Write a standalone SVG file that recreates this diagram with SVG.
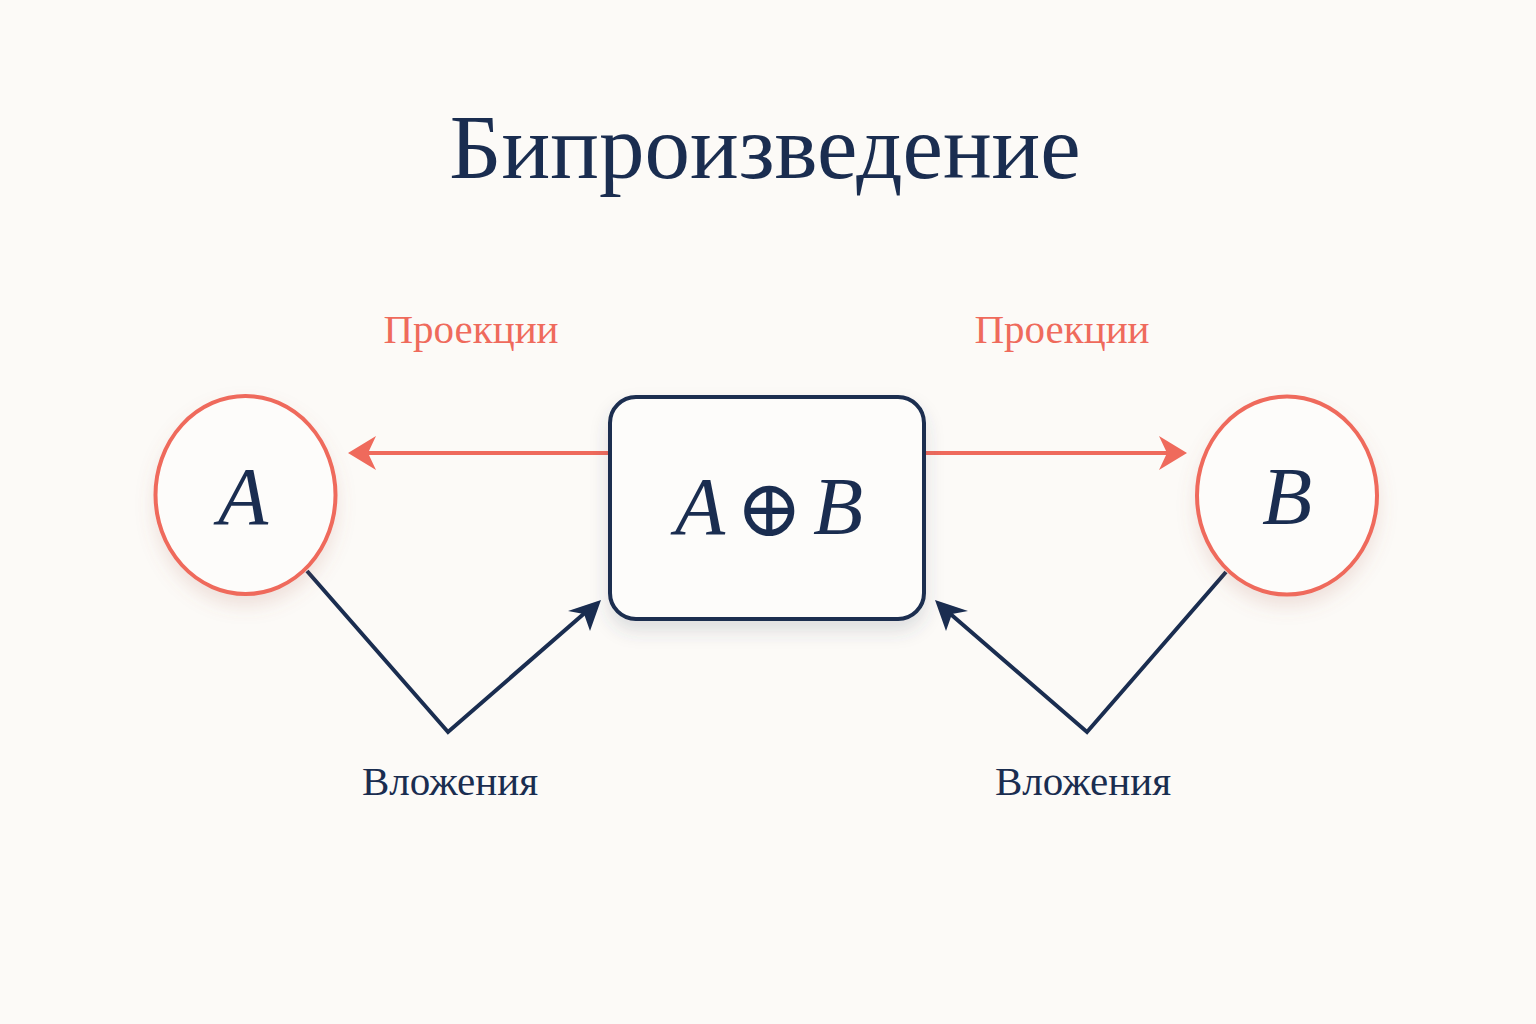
<svg xmlns="http://www.w3.org/2000/svg" width="1536" height="1024" viewBox="0 0 1536 1024">
<defs>
<style>
.title{font-family:"Liberation Serif","DejaVu Serif",serif;font-size:91px;fill:#1a2d50;text-anchor:middle}
.proj{font-family:"Liberation Serif","DejaVu Serif",serif;font-size:41px;fill:#ef6a5c;text-anchor:middle}
.emb{font-family:"Liberation Serif","DejaVu Serif",serif;font-size:41px;fill:#1a2d50;text-anchor:middle}
.math{font-family:"Liberation Serif","DejaVu Serif",serif;font-style:italic;font-size:82px;fill:#1a2d50;text-anchor:middle}
.op{font-family:"DejaVu Serif","Liberation Serif",serif;font-size:80px;fill:#1a2d50;text-anchor:middle}
.circ{fill:#fdfcfa;stroke:#ef6a5c;stroke-width:4}
.box{fill:#fdfcfa;stroke:#1a2d50;stroke-width:4}
.red{stroke:#ef6a5c;stroke-width:4;fill:none}
.navy{stroke:#1a2d50;stroke-width:4;fill:none;stroke-linejoin:miter}
</style>
<filter id="sh" x="-30%" y="-30%" width="160%" height="170%">
<feDropShadow dx="0" dy="10" stdDeviation="9" flood-color="#b07060" flood-opacity="0.18"/>
</filter>
<filter id="shb" x="-30%" y="-30%" width="160%" height="170%">
<feDropShadow dx="0" dy="10" stdDeviation="9" flood-color="#404860" flood-opacity="0.16"/>
</filter>
</defs>
<rect width="1536" height="1024" fill="#fcfaf7"/>
<text class="title" x="765" y="178">Бипроизведение</text>

<g id="connectors">
<line class="red" x1="609" y1="453" x2="362" y2="453"/>
<path d="M348,453 L376,436 L368,453 L376,470 Z" fill="#ef6a5c"/>
<line class="red" x1="925" y1="453" x2="1172" y2="453"/>
<path d="M1187,453 L1159,436 L1167,453 L1159,470 Z" fill="#ef6a5c"/>
<polyline class="navy" points="307,571 448,732 587,611"/>
<path d="M601,600 L568,611 L584,614 L590,631 Z" fill="#1a2d50"/>
<polyline class="navy" points="1226,572 1087,732 947,611"/>
<path d="M935,600 L968,611 L952,614 L946,631 Z" fill="#1a2d50"/>
<text class="proj" x="471" y="343">Проекции</text>
<text class="proj" x="1062" y="343">Проекции</text>
<text class="emb" x="450" y="795">Вложения</text>
<text class="emb" x="1083" y="795">Вложения</text>
</g>

<g id="node-A">
<ellipse class="circ" cx="245.5" cy="495" rx="90" ry="99" filter="url(#sh)"/>
<text class="math" x="243" y="524">A</text>
</g>
<g id="node-AB">
<rect class="box" x="610" y="397" width="314" height="222" rx="26" filter="url(#shb)"/>
<text class="math" x="700" y="534">A</text>
<text class="op" x="769" y="536">⊕</text>
<text class="math" x="838" y="534">B</text>
</g>
<g id="node-B">
<ellipse class="circ" cx="1287" cy="495.5" rx="90" ry="99" filter="url(#sh)"/>
<text class="math" x="1287" y="524">B</text>
</g>
</svg>
